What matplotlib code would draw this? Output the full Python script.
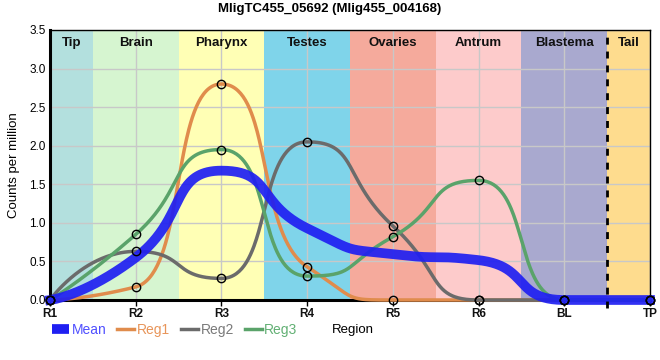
import numpy as np
import matplotlib
matplotlib.use("Agg")
import matplotlib.pyplot as plt
from matplotlib.lines import Line2D

plt.rcParams['font.family'] = ['Liberation Sans', 'DejaVu Sans']

# data
regions = ['R1', 'R2', 'R3', 'R4', 'R5', 'R6', 'BL', 'TP']
reg1 = [0.0, 0.17, 2.80, 0.43, 0.0, 0.0, 0.0, 0.0]
reg2 = [0.0, 0.63, 0.28, 2.05, 0.96, 0.0, 0.0, 0.0]
reg3 = [0.0, 0.85, 1.95, 0.31, 0.82, 1.55, 0.0, 0.0]
mean = list(np.mean([reg1, reg2, reg3], axis=0))

tissues = ['Tip', 'Brain', 'Pharynx', 'Testes', 'Ovaries', 'Antrum', 'Blastema', 'Tail']
tissue_colors = ['#b3e0de', '#d6f5d0', '#ffffb5', '#7fd4ea', '#f5aa9c',
                 '#fdcbcb', '#a9a9cf', '#fedc8e']
tissue_edges = [0, 0.5, 1.5, 2.5, 3.5, 4.5, 5.5, 6.5, 7]


def spline(x, y, a=0.6, n=80):
    # bezier spline, control points clamped at extrema so there is no overshoot
    x = np.asarray(x, float)
    y = np.asarray(y, float)
    npt = len(x)
    lx, ly = x.copy(), y.copy()
    rx, ry = x.copy(), y.copy()
    for i in range(1, npt - 1):
        lcx = x[i] - a * (x[i] - x[i - 1])
        lcy = y[i] - a * (y[i] - y[i - 1])
        rcx = x[i] + a * (x[i + 1] - x[i])
        rcy = y[i] + a * (y[i + 1] - y[i])
        corr = (rcy - lcy) * (rcx - x[i]) / (rcx - lcx) + y[i] - rcy
        lcy += corr
        rcy += corr
        if lcy > y[i - 1] and lcy > y[i]:
            lcy = max(y[i - 1], y[i])
            rcy = 2 * y[i] - lcy
        elif lcy < y[i - 1] and lcy < y[i]:
            lcy = min(y[i - 1], y[i])
            rcy = 2 * y[i] - lcy
        if rcy > y[i + 1] and rcy > y[i]:
            rcy = max(y[i + 1], y[i])
            lcy = 2 * y[i] - rcy
        elif rcy < y[i + 1] and rcy < y[i]:
            rcy = min(y[i + 1], y[i])
            lcy = 2 * y[i] - rcy
        lx[i], ly[i], rx[i], ry[i] = lcx, lcy, rcx, rcy
    xs, ys = [], []
    t = np.linspace(0, 1, n)
    for i in range(npt - 1):
        b0 = (1 - t)**3
        b1 = 3 * (1 - t)**2 * t
        b2 = 3 * (1 - t) * t**2
        b3 = t**3
        xs.append(b0 * x[i] + b1 * rx[i] + b2 * lx[i + 1] + b3 * x[i + 1])
        ys.append(b0 * y[i] + b1 * ry[i] + b2 * ly[i + 1] + b3 * y[i + 1])
    return np.concatenate(xs), np.concatenate(ys)


xpos = np.arange(len(regions))

fig = plt.figure(figsize=(6.6, 3.6), dpi=100)
ax = fig.add_axes([50 / 660, 60 / 360, 600 / 660, 270 / 360])

for i, name in enumerate(tissues):
    ax.axvspan(tissue_edges[i], tissue_edges[i + 1], color=tissue_colors[i], lw=0, zorder=0)
    ax.text((tissue_edges[i] + tissue_edges[i + 1]) / 2, 3.33, name, ha='center', va='center',
            fontsize=9.5, fontweight='bold', color='#111111', zorder=5)

ax.axvline(6.5, ymin=-0.03, ymax=1, color='black', lw=2, ls=(0, (2.5, 2.5)), clip_on=False, zorder=4)

ax.set_axisbelow(True)
ax.grid(True, color='#c8c8c8', lw=1)

series = [(reg1, '#e08c4c', 'Reg1'), (reg2, '#6b6b6b', 'Reg2'), (reg3, '#5aa36a', 'Reg3')]
for vals, col, lab in series:
    sx, sy = spline(xpos, vals)
    ax.plot(sx, sy, color=col, lw=2.5, zorder=3, clip_on=False, solid_capstyle='round')

mx, my = spline(xpos, mean)
ax.plot(mx, my, color='#1f1ff2', lw=7, alpha=0.92, zorder=3.5, clip_on=False)

for vals, col, lab in series:
    ax.plot(xpos, vals, 'o', ms=6, mfc='none', mec='black', mew=1, zorder=6, clip_on=False)

ax.set_xlim(0, 7)
ax.set_ylim(0, 3.5)
ax.set_xticks(xpos)
ax.set_xticklabels(regions, fontsize=8.5, fontweight='bold', color='#111111')
ax.set_yticks(np.arange(0, 3.51, 0.5))
ax.set_yticklabels(['%.1f' % v for v in np.arange(0, 3.51, 0.5)], fontsize=8.5)
ax.tick_params(axis='x', length=4, width=1, pad=2)
ax.tick_params(axis='y', length=0, pad=3)

ax.spines['left'].set_linewidth(2.2)
ax.spines['bottom'].set_linewidth(2.2)
ax.spines['top'].set_linewidth(1)
ax.spines['right'].set_linewidth(1)

ax.set_ylabel('Counts per million', fontsize=9.5, labelpad=7)
fig.text(332 / 660, 1 - 330 / 360, 'Region', fontsize=9.5, ha='left', va='center')

fig.text(0.5, 1 - 9 / 360, 'MligTC455_05692 (Mlig455_004168)', ha='center', va='center',
         fontsize=9.5, fontweight='bold')

handles = [Line2D([], [], color='#1f1ff2', lw=7, solid_capstyle='butt'),
           Line2D([], [], color='#e08c4c', lw=2.5),
           Line2D([], [], color='#6b6b6b', lw=2.5),
           Line2D([], [], color='#5aa36a', lw=2.5)]
leg = fig.legend(handles, ['Mean', 'Reg1', 'Reg2', 'Reg3'], ncol=4, frameon=False,
                 loc='center left', bbox_to_anchor=(52 / 660, 1 - 330 / 360),
                 fontsize=10, handlelength=1.2, handletextpad=0.2, columnspacing=0.8,
                 borderpad=0, borderaxespad=0)
text_cols = ['#5050ff', '#e8955a', '#7a7a7a', '#62b074']
for t, c in zip(leg.get_texts(), text_cols):
    t.set_color(c)

fig.savefig('out.png', dpi=100)
